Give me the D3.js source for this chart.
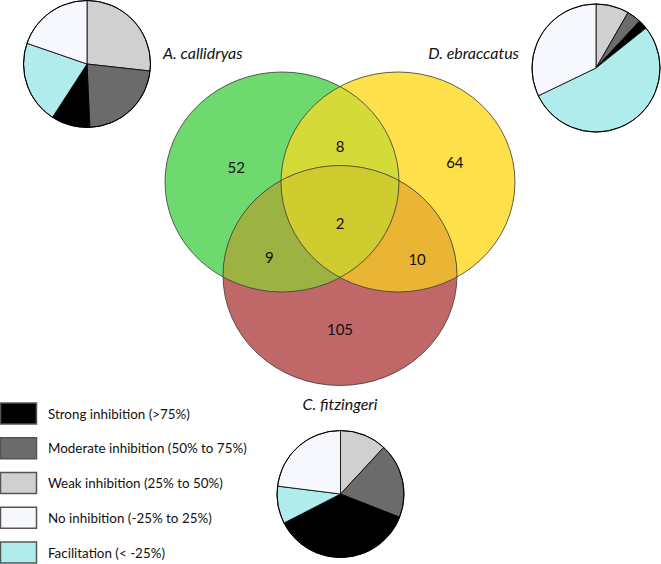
<!DOCTYPE html>
<html lang="en">
<head>
<meta charset="UTF-8">
<title>Venn + inhibition pies</title>
<script src="https://cdn.jsdelivr.net/npm/d3@7"></script>
<style>
  body { margin: 0; background: #fff; }
  svg { display: block; font-family: Lato, "Open Sans", sans-serif; }
</style>
</head>
<body>
<div id="chart"></div>
<script>
// data
const species = ["A. callidryas", "D. ebraccatus", "C. fitzingeri"];
const setColors = ["#6ed96e", "#fde04a", "#c06868"];

const regions = ["A", "B", "C", "AB", "AC", "BC", "ABC"];
const regionCounts = [52, 64, 105, 8, 9, 10, 2];
const regionColors = ["#6ed96e", "#fde04a", "#c06868", "#d4da37", "#9cb242", "#eab434", "#cecc2e"];

// pie order, clockwise from 12 o'clock
const categories = [
  "Weak inhibition (25% to 50%)",
  "Moderate inhibition (50% to 75%)",
  "Strong inhibition (>75%)",
  "Facilitation (< -25%)",
  "No inhibition (-25% to 25%)"
];
const catColors = ["#d0d0d0", "#6b6b6b", "#000000", "#b0ecec", "#f7f8fe"];
const legendOrder = [2, 1, 0, 4, 3];

const pieCallidryas = [19, 16, 7, 15, 14];
const pieEbraccatus = [7, 3, 2, 45, 27];
const pieFitzingeri = [15, 24, 46, 12, 29];

// layout
const W = 661, H = 564;
const svg = d3.select("#chart").append("svg").attr("width", W).attr("height", H);

const xs = d3.scaleLinear().domain([-1, 1]).range([282, 398]);
const ys = d3.scaleLinear().domain([0, 1]).range([182, 275.5]);
const rx = 117, ry = 110;
const centers = { A: [-1, 0], B: [1, 0], C: [0, 1] };
const labelPos = {
  A: [-1.79, -0.16], B: [1.98, -0.21], C: [0, 1.57],
  AB: [0, -0.385], AC: [-1.22, 0.80], BC: [1.33, 0.82], ABC: [0, 0.44]
};

const defs = svg.append("defs");
["A", "B", "C"].forEach(k => {
  defs.append("clipPath").attr("id", "clip" + k)
    .append("ellipse")
    .attr("cx", xs(centers[k][0])).attr("cy", ys(centers[k][1]))
    .attr("rx", rx).attr("ry", ry);
});

function ellipse(sel, k) {
  return sel.append("ellipse")
    .attr("cx", xs(centers[k][0])).attr("cy", ys(centers[k][1]))
    .attr("rx", rx).attr("ry", ry);
}

const venn = svg.append("g");
regions.forEach((r, i) => {
  const keys = r.split("");
  // nest clip groups for every set except the last
  let g = venn;
  keys.slice(0, -1).forEach(k => { g = g.append("g").attr("clip-path", `url(#clip${k})`); });
  ellipse(g, keys[keys.length - 1]).attr("fill", regionColors[i]);
});

["A", "B", "C"].forEach(k => {
  ellipse(venn, k).attr("fill", "none").attr("stroke", "#3a3a3a").attr("stroke-opacity", 0.8).attr("stroke-width", 1);
});

venn.selectAll("text.count")
  .data(regions)
  .join("text")
  .attr("class", "count")
  .attr("x", r => xs(labelPos[r][0]))
  .attr("y", r => ys(labelPos[r][1]))
  .attr("text-anchor", "middle")
  .attr("dominant-baseline", "central")
  .attr("font-size", 15)
  .attr("fill", "#111")
  .text((r, i) => regionCounts[i]);

// species names
const nameSpec = [
  { x: 163, y: 52, anchor: "start" },
  { x: 519, y: 52, anchor: "end" },
  { x: 340, y: 403, anchor: "middle" }
];
svg.selectAll("text.sp")
  .data(species)
  .join("text")
  .attr("class", "sp")
  .attr("x", (d, i) => nameSpec[i].x)
  .attr("y", (d, i) => nameSpec[i].y)
  .attr("text-anchor", (d, i) => nameSpec[i].anchor)
  .attr("dominant-baseline", "central")
  .attr("font-size", 16)
  .attr("font-style", "italic")
  .attr("fill", "#111")
  .text(d => d);

// pies
const pieData = [pieCallidryas, pieEbraccatus, pieFitzingeri];
const pieSpec = [
  { cx: 87, cy: 64, r: 63.5 },
  { cx: 596, cy: 68, r: 64 },
  { cx: 340.5, cy: 494, r: 63.5 }
];
const pie = d3.pie().sort(null);
const color = d3.scaleOrdinal().domain(d3.range(categories.length)).range(catColors);

pieData.forEach((vals, j) => {
  const s = pieSpec[j];
  const arc = d3.arc().innerRadius(0).outerRadius(s.r);
  const g = svg.append("g").attr("transform", `translate(${s.cx},${s.cy})`);
  g.selectAll("path")
    .data(pie(vals))
    .join("path")
    .attr("d", arc)
    .attr("fill", (d, i) => color(i))
    .attr("stroke", "#000")
    .attr("stroke-width", 0.8)
    .attr("stroke-linejoin", "round");
  g.append("circle").attr("r", s.r).attr("fill", "none").attr("stroke", "#000").attr("stroke-width", 1);
});

// legend
const ly = d3.scalePoint().domain(legendOrder).range([403, 542]);
const legend = svg.append("g");
const rows = legend.selectAll("g")
  .data(legendOrder)
  .join("g")
  .attr("transform", d => `translate(0,${ly(d)})`);
rows.append("rect")
  .attr("x", 0.5).attr("y", 0)
  .attr("width", 36).attr("height", 21)
  .attr("fill", d => color(d))
  .attr("stroke", "#555")
  .attr("stroke-width", 1.5);
rows.append("text")
  .attr("x", 48)
  .attr("y", 10.5)
  .attr("dominant-baseline", "central")
  .attr("font-size", 13.4)
  .attr("fill", "#111")
  .text(d => categories[d]);
</script>
</body>
</html>
